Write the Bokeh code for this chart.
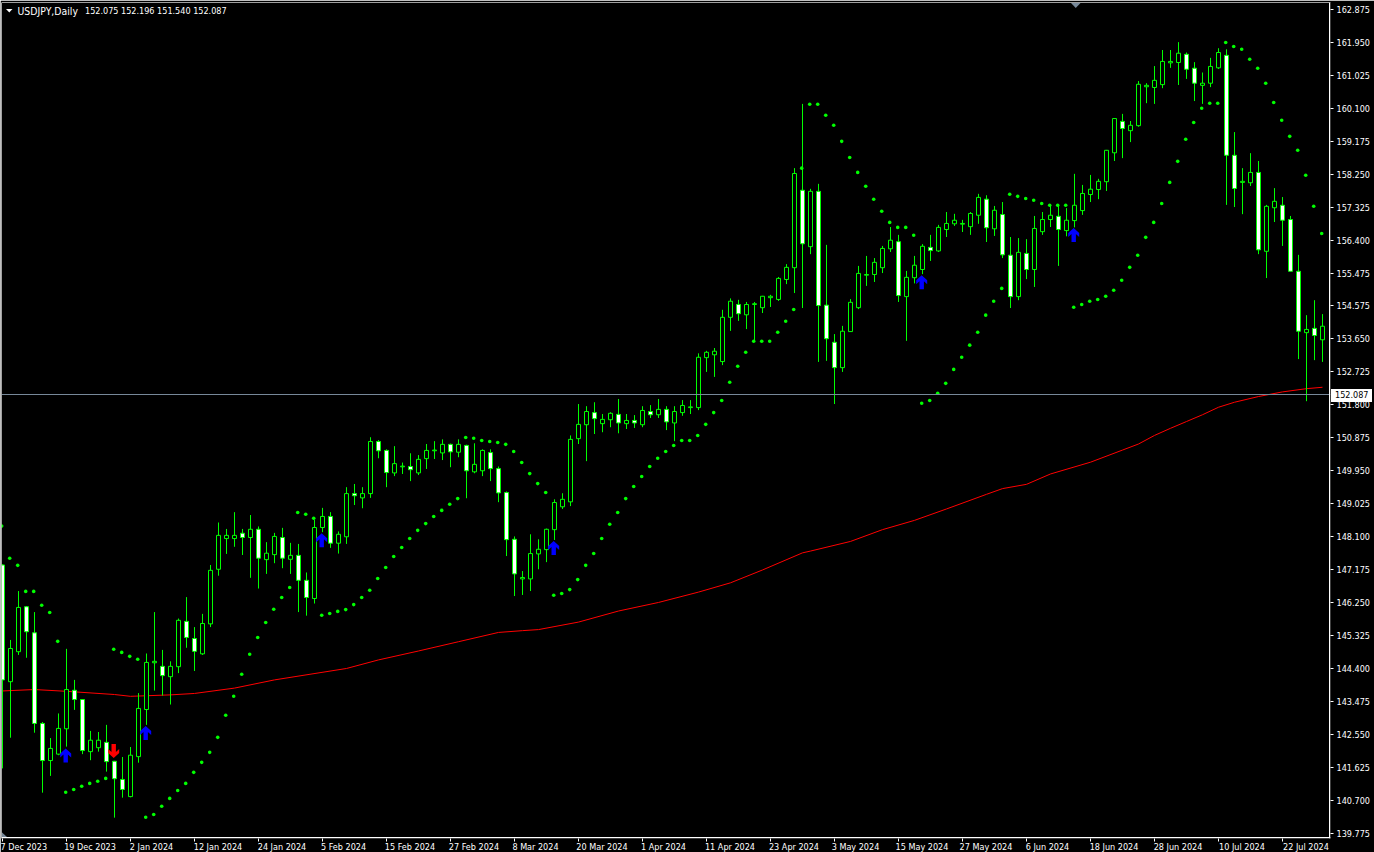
from bokeh.plotting import figure
from bokeh.embed import file_html
from bokeh.resources import INLINE
from bokeh.layouts import column
from bokeh.models import FixedTicker, LinearAxis, NumeralTickFormatter, Span, Label, Range1d, Div
import numpy as np

highs = [147.33,145.21,146.58,146.16,145.99,142.91,142.46,143.15,144.96,144.09,
143.55,142.66,142.63,142.83,141.82,141.93,142.21,143.72,144.83,145.99,
144.93,144.61,145.81,146.41,145.57,145.94,147.31,148.50,148.32,148.79,
148.32,148.71,148.39,147.95,148.21,148.35,147.93,147.90,147.10,148.58,
148.91,148.79,148.25,149.49,149.58,149.49,150.89,150.81,150.55,150.64,
150.18,150.44,150.39,150.70,150.78,150.83,150.71,150.83,150.68,150.72,
150.55,150.55,150.07,149.37,148.11,147.14,148.17,148.03,148.33,149.15,
149.32,150.94,151.82,151.76,151.87,151.54,151.59,151.96,151.54,151.51,
151.76,151.79,151.96,151.76,151.76,151.93,151.93,153.24,153.31,153.39,
154.46,154.78,154.74,154.68,154.68,154.85,154.88,155.38,155.74,158.43,
160.23,157.85,157.99,156.28,153.78,154.01,154.76,155.69,155.97,155.91,
156.25,156.78,156.56,155.55,155.97,156.30,156.56,156.84,157.20,157.15,
156.98,157.20,157.71,157.67,157.37,157.48,156.50,156.47,156.44,157.09,
157.20,157.39,157.42,157.31,158.27,157.96,158.24,158.13,158.94,159.83,
159.95,159.75,160.87,160.81,161.29,161.74,161.74,161.96,161.67,161.40,
161.11,161.52,161.79,161.76,159.44,158.43,158.85,158.63,157.40,157.87,
157.62,157.09,156.00,154.31,154.73,154.34]

lows = [141.61,142.47,144.79,144.71,142.61,140.93,141.40,141.98,142.22,143.25,
142.01,141.84,142.08,141.52,140.23,140.79,140.80,141.77,142.83,143.79,
143.65,143.40,144.28,144.99,144.34,144.79,145.57,147.01,147.62,147.82,
147.59,146.95,146.65,147.06,147.36,147.22,147.06,145.99,145.89,146.23,
148.23,147.79,147.63,147.90,148.99,148.90,149.19,150.30,149.49,149.80,
149.86,149.66,149.83,150.00,150.28,150.25,150.05,150.33,149.18,149.88,
149.80,149.66,149.07,147.56,146.44,146.47,146.58,147.19,147.39,148.01,
148.88,148.96,150.70,150.22,150.98,151.03,151.17,151.00,151.12,151.15,
151.17,151.43,151.43,151.09,150.78,151.49,151.54,151.65,152.72,152.58,
152.91,153.87,154.15,153.92,153.57,154.37,154.54,154.71,155.18,154.93,
154.51,156.02,153.00,153.03,151.82,152.72,153.85,154.48,155.13,155.24,
155.49,156.08,154.68,153.59,155.20,155.46,155.83,156.08,156.50,156.81,
156.64,156.56,156.87,156.36,156.53,155.91,154.51,154.73,155.32,155.10,
156.56,156.78,155.69,156.52,156.77,157.12,157.48,157.56,157.79,158.63,
158.71,159.16,159.59,160.25,160.23,160.67,161.24,160.76,160.93,160.31,
160.23,160.70,161.21,157.40,157.34,157.14,157.93,156.02,155.35,156.92,
156.25,155.54,153.08,151.90,153.05,153.00]

opens = [147.31,144.04,144.88,146.14,145.41,142.87,141.83,142.01,142.72,143.80,
143.54,142.08,142.19,142.34,141.81,141.30,140.82,141.94,143.26,144.57,
144.47,144.18,144.46,145.73,145.25,144.82,145.66,147.19,148.05,148.05,
148.20,148.08,148.31,147.46,147.60,148.08,147.47,147.58,146.88,146.37,
148.36,148.67,147.92,148.10,149.31,149.19,149.31,150.77,150.52,149.89,
150.06,150.07,149.89,150.29,150.51,150.45,150.69,150.47,150.66,149.92,
149.95,150.46,150.01,149.34,148.03,146.92,146.92,147.62,147.74,148.30,
148.94,149.08,150.85,151.24,151.58,151.27,151.38,151.53,151.27,151.36,
151.24,151.61,151.52,151.67,151.29,151.58,151.72,151.72,153.12,153.20,
153.01,154.25,154.61,154.32,154.61,154.52,154.80,154.75,155.31,155.64,
157.81,156.23,157.78,154.59,153.55,152.84,153.85,154.52,155.43,155.45,
155.64,156.17,156.37,154.83,155.36,155.59,156.21,156.11,156.71,156.87,
156.86,156.79,157.11,157.56,156.73,157.13,155.99,154.83,156.04,155.59,
156.65,156.99,157.08,156.68,156.96,157.24,157.69,157.83,158.05,158.86,
159.74,159.48,159.62,160.71,160.69,160.77,161.38,161.39,161.62,161.23,
160.75,160.81,161.24,161.59,158.79,158.03,158.02,158.31,156.10,157.32,
157.39,156.99,155.54,153.82,153.94,153.62]

closes = [144.09,144.97,146.12,145.44,142.87,141.83,142.17,142.73,143.82,143.54,
142.11,142.40,142.40,141.80,141.32,141.02,141.98,143.29,144.58,144.61,
144.21,144.47,145.76,145.28,144.89,145.67,147.16,148.14,148.14,148.14,
148.08,148.31,147.50,147.64,148.11,147.50,147.58,146.88,146.40,148.36,
148.67,147.92,148.17,149.31,149.25,149.31,150.77,150.51,149.90,150.15,
150.08,149.98,150.27,150.52,150.53,150.69,150.48,150.69,149.95,150.13,
150.52,150.01,149.33,148.02,147.06,146.96,147.63,147.75,148.31,149.06,
149.15,150.83,151.25,151.61,151.41,151.39,151.56,151.29,151.36,151.29,
151.64,151.52,151.67,151.32,151.61,151.78,151.74,153.13,153.27,153.30,
154.25,154.70,154.35,154.61,154.63,154.84,154.84,155.34,155.65,158.28,
156.31,157.78,154.58,153.65,152.84,153.86,154.67,155.48,155.45,155.79,
156.18,156.41,154.86,155.37,155.71,156.24,156.12,156.77,156.88,156.97,
156.88,157.16,157.61,156.76,157.25,156.00,154.83,156.07,155.59,156.74,
156.99,157.11,156.71,156.97,157.39,157.72,157.84,158.06,158.93,159.82,
159.54,159.63,160.78,160.75,160.89,161.42,161.42,161.65,161.20,160.81,
160.81,161.28,161.67,158.79,157.86,158.06,158.31,156.14,157.36,157.50,
156.97,155.54,153.86,153.91,153.74,154.00]

sar = [148.40,147.50,147.30,146.57,146.57,146.18,145.98,145.17,140.94,141.02,
141.11,141.19,141.25,141.33,144.95,144.86,144.75,144.67,140.24,140.32,
140.55,140.77,140.99,141.19,141.50,141.78,142.06,142.48,143.10,143.63,
144.25,144.81,145.28,145.70,146.07,146.40,146.68,148.78,148.73,148.62,
145.90,145.95,146.01,146.06,146.20,146.40,146.60,146.93,147.24,147.55,
147.80,148.05,148.28,148.47,148.67,148.84,149.01,149.17,150.88,150.86,
150.80,150.77,150.74,150.69,150.49,150.18,149.87,149.59,149.34,146.46,
146.51,146.62,146.90,147.30,147.63,148.05,148.45,148.78,149.17,149.51,
149.79,150.07,150.30,150.49,150.66,150.80,150.80,150.94,151.25,151.58,
151.92,152.43,152.88,153.27,153.58,153.58,153.58,153.83,154.14,154.47,
158.43,160.22,160.22,159.91,159.63,159.18,158.73,158.31,157.92,157.56,
157.22,156.91,156.77,156.77,156.55,151.84,151.92,152.12,152.40,152.79,
153.13,153.47,153.83,154.31,154.70,155.06,157.70,157.64,157.58,157.53,
157.44,157.39,157.39,157.39,154.53,154.61,154.70,154.75,154.84,155.01,
155.29,155.65,155.99,156.49,156.91,157.44,158.03,158.62,159.24,159.71,
160.11,160.25,160.25,161.95,161.84,161.76,161.48,161.23,160.81,160.27,
159.77,159.32,158.93,158.23,157.36,156.60]

ma_bars = [0,4,8,14,16,21,24,29,34,43,47,52,57,62,65,67,72,77,82,87,91,95,100,101,106,110,
           114,118,123,125,128,131,136,140,142,144,146,148,150,152,154,157,160,163,165]
ma_values = [143.78,143.82,143.77,143.68,143.63,143.67,143.71,143.86,144.09,144.41,144.65,144.90,
             145.16,145.42,145.47,145.50,145.71,146.02,146.26,146.55,146.81,147.17,147.65,147.70,
             147.97,148.30,148.56,148.88,149.29,149.45,149.57,149.86,150.19,150.53,150.70,150.94,
             151.14,151.33,151.52,151.73,151.87,152.03,152.16,152.25,152.29]

up_arrow_bars = [8,18,40,69,115,134]
up_arrow_prices = [142.17,142.80,148.20,147.98,155.43,156.75]
down_arrow_bars = [14]
down_arrow_prices = [141.90]

price_ticks = [162.875,161.950,161.025,160.100,159.175,158.250,157.325,156.400,155.475,154.575,153.650,
               152.725,151.800,150.875,149.950,149.025,148.100,147.175,146.250,145.325,144.400,143.475,
               142.550,141.625,140.700,139.775]
date_tick_bars = list(range(0, 161, 8))
date_labels = ["7 Dec 2023","19 Dec 2023","2 Jan 2024","12 Jan 2024","24 Jan 2024","5 Feb 2024",
               "15 Feb 2024","27 Feb 2024","8 Mar 2024","20 Mar 2024","1 Apr 2024","11 Apr 2024",
               "23 Apr 2024","3 May 2024","15 May 2024","27 May 2024","6 Jun 2024","18 Jun 2024",
               "28 Jun 2024","10 Jul 2024","22 Jul 2024"]
last_price = 152.087
symbol_text = "USDJPY,Daily"
ohlc_text = "152.075 152.196 151.540 152.087"

assert len({len(highs), len(lows), len(opens), len(closes), len(sar)}) == 1

K = 35.688
def PY(px): return 162.875 - (px - 9.5) / K
def PX(px): return (px - 2.5) / 8.0

FONT = "DejaVu Sans Condensed"
FONT_SIZE = "9px"
GREEN = "#00ff00"
GRAY = "#778899"

p = figure(width=1374, height=856, frame_width=1329, frame_height=836,
           output_backend="svg", toolbar_location=None,
           x_range=Range1d(PX(1.5), PX(1330.5)), y_range=Range1d(PY(838.5), PY(2.5)),
           x_axis_type=None, y_axis_type=None,
           background_fill_color="black", border_fill_color="black",
           min_border_left=1, min_border_top=2, min_border_right=44, min_border_bottom=18)
p.outline_line_color = None
p.grid.visible = False
p.styles = {"position": "absolute", "left": "0px", "top": "0px"}

right_ax = LinearAxis(ticker=FixedTicker(ticks=price_ticks), formatter=NumeralTickFormatter(format="0.000"))
# the date labels start at their tick, so they are centred a half label width to its right;
# the tick marks themselves are the axis' minor ticks
date_label_pos = [b + (21.0 if len(s) == 10 else 23.5) / 8.0 for b, s in zip(date_tick_bars, date_labels)]
date_ax = LinearAxis(ticker=FixedTicker(ticks=date_label_pos, minor_ticks=date_tick_bars),
                     major_label_overrides={b: s for b, s in zip(date_label_pos, date_labels)})
for ax in (right_ax, date_ax):
    ax.axis_line_color = None
    ax.major_tick_line_color = "white"
    ax.major_tick_in = 0
    ax.major_tick_out = 3
    ax.minor_tick_line_color = None
    ax.major_label_text_color = "white"
    ax.major_label_text_font = FONT
    ax.major_label_text_font_size = FONT_SIZE
right_ax.major_label_standoff = 3
date_ax.major_tick_line_color = None
date_ax.major_tick_out = 0
date_ax.minor_tick_line_color = "white"
date_ax.minor_tick_in = 0
date_ax.minor_tick_out = 3
date_ax.major_label_standoff = 0
p.add_layout(right_ax, "right")
p.add_layout(date_ax, "below")

bars = np.arange(len(opens))
o, c, h, l = map(np.array, (opens, closes, highs, lows))
bear = c < o
tops = np.maximum(o, c)
bots = np.minimum(o, c)

p.add_layout(Span(location=last_price, dimension="width", line_color=GRAY, line_width=1))
p.line(ma_bars, ma_values, line_color="#ff0000", line_width=1)
p.segment(bars, l, bars, h, line_color=GREEN, line_width=1)
p.vbar(bars[~bear], 0.5, bots[~bear], tops[~bear], fill_color="black", line_color=GREEN, line_width=1)
p.vbar(bars[bear], 0.5, bots[bear], tops[bear], fill_color="white", line_color=GREEN, line_width=1)
p.scatter(bars - 0.1, sar, marker="circle", size=3.6, fill_color=GREEN, line_color=None)

up_shape = [(0,0),(5.5,5),(5.5,9),(2.2,6),(2.2,14),(-2.2,14),(-2.2,6),(-5.5,9),(-5.5,5)]
def arrow(bar, price, sign):
    return ([bar - 0.1 + dx / 8.0 for dx, dy in up_shape],
            [price - sign * dy / K for dx, dy in up_shape])
ua = [arrow(b, v, 1) for b, v in zip(up_arrow_bars, up_arrow_prices)]
da = [arrow(b, v, -1) for b, v in zip(down_arrow_bars, down_arrow_prices)]
p.patches([a[0] for a in ua], [a[1] for a in ua], fill_color="#0000ff", line_color=None)
p.patches([a[0] for a in da], [a[1] for a in da], fill_color="#ff0000", line_color=None)

# frame lines
for loc, dim in ((PX(1.5), "height"), (PX(1329.5), "height"), (PY(2.5), "width"), (PY(837.5), "width")):
    p.add_layout(Span(location=loc, dimension=dim, line_color="white", line_width=1))

# small chart furniture
p.patch([PX(1.5), PX(7), PX(1.5)], [PY(837), PY(837), PY(832)], fill_color=GRAY, line_color=None)
p.patch([PX(1071), PX(1080.5), PX(1075.75)], [PY(3), PY(3), PY(8)], fill_color=GRAY, line_color=None)
p.patch([PX(6), PX(12.5), PX(9.25)], [PY(9), PY(9), PY(12.5)], fill_color="white", line_color=None)

p.add_layout(Label(x=16, y=PY(10.5), x_units="screen", y_units="data", text=symbol_text,
                   text_color="white", text_font=FONT, text_font_size="10.4px", text_baseline="middle"))
p.add_layout(Label(x=83.5, y=PY(10.5), x_units="screen", y_units="data", text=ohlc_text,
                   text_color="white", text_font=FONT, text_font_size=FONT_SIZE, text_baseline="middle"))

# the last-price tag sits on the price scale, outside the plotting frame
tag = Div(text=f"{last_price:.3f}", width=41, height=13, margin=0,
          styles={"position": "absolute", "left": "1331px", "top": "389px", "z-index": "5",
                  "background": "white", "color": "black", "font-family": FONT, "font-size": FONT_SIZE,
                  "line-height": "13px", "padding-left": "4px", "box-sizing": "border-box",
                  "white-space": "nowrap"})

inner = column(p, tag, width=1374, height=856, sizing_mode="fixed")
inner.styles = {"position": "absolute", "left": "0px", "top": "0px"}
page = column(inner, width=1374, height=852, sizing_mode="fixed")
page.styles = {"position": "absolute", "left": "0px", "top": "0px", "overflow": "hidden"}
open("out.html", "w").write(file_html(page, INLINE))
